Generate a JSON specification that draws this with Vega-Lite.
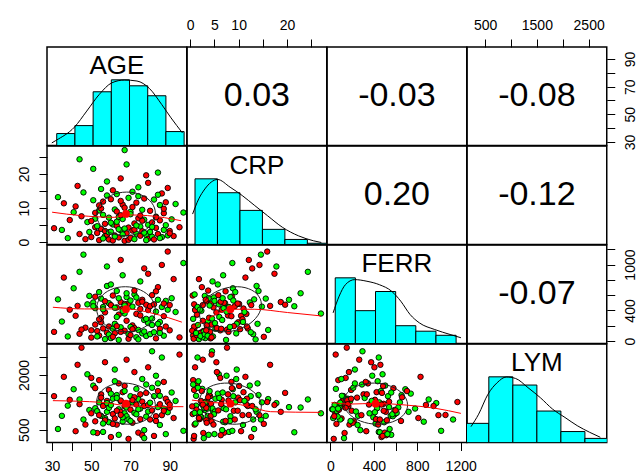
{
"$schema":"https://vega.github.io/schema/vega-lite/v6.json",
"padding":{"left":16,"top":17,"right":0,"bottom":0},
"background":"white",
"config":{
 "view":{"stroke":"black","strokeWidth":1.5},
 "axis":{"domain":false,"grid":false,"tickColor":"black","tickWidth":1,"labelColor":"black","labelFont":"Liberation Sans","labelFontSize":14,"labelOverlap":false,"labelFlush":false},
 "text":{"font":"Liberation Sans"},
 "concat":{"spacing":0}
},
"datasets":{
 "subj":[
{"AGE":31,"CRP":4.1,"FERR":120,"LYM":1420,"g":"r"},
{"AGE":33,"CRP":13.2,"FERR":545,"LYM":520,"g":"g"},
{"AGE":36,"CRP":11.4,"FERR":830,"LYM":1950,"g":"r"},
{"AGE":38,"CRP":1.2,"FERR":60,"LYM":1160,"g":"g"},
{"AGE":39,"CRP":6.5,"FERR":410,"LYM":1320,"g":"r"},
{"AGE":35,"CRP":3.6,"FERR":255,"LYM":880,"g":"g"},
{"AGE":41,"CRP":8.8,"FERR":690,"LYM":1610,"g":"g"},
{"AGE":43,"CRP":16.5,"FERR":460,"LYM":2280,"g":"r"},
{"AGE":44,"CRP":2.4,"FERR":95,"LYM":1200,"g":"r"},
{"AGE":46,"CRP":14.6,"FERR":1130,"LYM":780,"g":"g"},
{"AGE":47,"CRP":0.9,"FERR":175,"LYM":640,"g":"r"},
{"AGE":48,"CRP":5.9,"FERR":480,"LYM":2020,"g":"g"},
{"AGE":42,"CRP":10.5,"FERR":330,"LYM":460,"g":"r"},
{"AGE":45,"CRP":7.6,"FERR":150,"LYM":2750,"g":"r"},
{"AGE":49,"CRP":3.0,"FERR":590,"LYM":1040,"g":"g"},
{"AGE":44,"CRP":24.3,"FERR":905,"LYM":1330,"g":"g"},
{"AGE":50,"CRP":1.5,"FERR":45,"LYM":950,"g":"r"},
{"AGE":51,"CRP":12.3,"FERR":505,"LYM":1710,"g":"g"},
{"AGE":52,"CRP":4.4,"FERR":215,"LYM":730,"g":"r"},
{"AGE":52,"CRP":6.9,"FERR":430,"LYM":1090,"g":"g"},
{"AGE":53,"CRP":2.7,"FERR":130,"LYM":410,"g":"r"},
{"AGE":54,"CRP":9.3,"FERR":640,"LYM":1250,"g":"g"},
{"AGE":54,"CRP":0.6,"FERR":72,"LYM":1860,"g":"r"},
{"AGE":55,"CRP":15.6,"FERR":555,"LYM":880,"g":"g"},
{"AGE":55,"CRP":3.9,"FERR":305,"LYM":1470,"g":"r"},
{"AGE":56,"CRP":8.0,"FERR":445,"LYM":440,"g":"g"},
{"AGE":56,"CRP":11.9,"FERR":165,"LYM":1150,"g":"r"},
{"AGE":57,"CRP":1.8,"FERR":25,"LYM":820,"g":"g"},
{"AGE":57,"CRP":5.4,"FERR":375,"LYM":2350,"g":"r"},
{"AGE":58,"CRP":13.7,"FERR":720,"LYM":990,"g":"g"},
{"AGE":58,"CRP":2.2,"FERR":110,"LYM":1290,"g":"r"},
{"AGE":59,"CRP":7.2,"FERR":495,"LYM":705,"g":"g"},
{"AGE":59,"CRP":0.8,"FERR":190,"LYM":1590,"g":"r"},
{"AGE":51,"CRP":21.5,"FERR":455,"LYM":430,"g":"g"},
{"AGE":53,"CRP":4.7,"FERR":60,"LYM":1010,"g":"g"},
{"AGE":55,"CRP":9.9,"FERR":245,"LYM":1380,"g":"r"},
{"AGE":57,"CRP":3.3,"FERR":520,"LYM":760,"g":"r"},
{"AGE":58,"CRP":17.8,"FERR":975,"LYM":1230,"g":"g"},
{"AGE":50,"CRP":6.2,"FERR":140,"LYM":1920,"g":"r"},
{"AGE":56,"CRP":1.1,"FERR":415,"LYM":670,"g":"g"},
{"AGE":54,"CRP":10.8,"FERR":285,"LYM":900,"g":"r"},
{"AGE":59,"CRP":2.9,"FERR":85,"LYM":1100,"g":"g"},
{"AGE":52,"CRP":8.6,"FERR":580,"LYM":1640,"g":"r"},
{"AGE":60,"CRP":3.1,"FERR":38,"LYM":1180,"g":"g"},
{"AGE":60,"CRP":12.6,"FERR":470,"LYM":300,"g":"r"},
{"AGE":61,"CRP":5.2,"FERR":160,"LYM":1350,"g":"g"},
{"AGE":61,"CRP":0.5,"FERR":595,"LYM":930,"g":"r"},
{"AGE":62,"CRP":9.6,"FERR":225,"LYM":2150,"g":"g"},
{"AGE":62,"CRP":2.0,"FERR":102,"LYM":810,"g":"r"},
{"AGE":63,"CRP":14.1,"FERR":655,"LYM":1450,"g":"g"},
{"AGE":63,"CRP":4.8,"FERR":440,"LYM":640,"g":"r"},
{"AGE":64,"CRP":7.4,"FERR":15,"LYM":1060,"g":"g"},
{"AGE":64,"CRP":1.4,"FERR":345,"LYM":1770,"g":"r"},
{"AGE":65,"CRP":18.7,"FERR":510,"LYM":990,"g":"r"},
{"AGE":65,"CRP":3.5,"FERR":180,"LYM":1280,"g":"g"},
{"AGE":66,"CRP":6.8,"FERR":860,"LYM":720,"g":"g"},
{"AGE":66,"CRP":11.0,"FERR":425,"LYM":1530,"g":"r"},
{"AGE":67,"CRP":27.0,"FERR":360,"LYM":950,"g":"g"},
{"AGE":67,"CRP":0.4,"FERR":135,"LYM":1140,"g":"r"},
{"AGE":68,"CRP":8.3,"FERR":575,"LYM":870,"g":"g"},
{"AGE":68,"CRP":2.6,"FERR":265,"LYM":2420,"g":"r"},
{"AGE":69,"CRP":13.0,"FERR":90,"LYM":780,"g":"g"},
{"AGE":69,"CRP":4.3,"FERR":490,"LYM":1210,"g":"r"},
{"AGE":60,"CRP":5.7,"FERR":740,"LYM":1490,"g":"g"},
{"AGE":61,"CRP":15.2,"FERR":55,"LYM":660,"g":"r"},
{"AGE":62,"CRP":1.7,"FERR":435,"LYM":1830,"g":"g"},
{"AGE":63,"CRP":9.0,"FERR":195,"LYM":1020,"g":"r"},
{"AGE":64,"CRP":3.8,"FERR":560,"LYM":360,"g":"g"},
{"AGE":65,"CRP":7.9,"FERR":120,"LYM":1300,"g":"r"},
{"AGE":66,"CRP":2.3,"FERR":395,"LYM":840,"g":"g"},
{"AGE":67,"CRP":10.1,"FERR":485,"LYM":1700,"g":"r"},
{"AGE":68,"CRP":22.8,"FERR":625,"LYM":1110,"g":"g"},
{"AGE":69,"CRP":0.7,"FERR":30,"LYM":250,"g":"r"},
{"AGE":63,"CRP":6.0,"FERR":315,"LYM":1370,"g":"g"},
{"AGE":65,"CRP":12.1,"FERR":1060,"LYM":905,"g":"r"},
{"AGE":67,"CRP":4.0,"FERR":465,"LYM":1560,"g":"g"},
{"AGE":70,"CRP":1.3,"FERR":78,"LYM":1050,"g":"r"},
{"AGE":70,"CRP":8.9,"FERR":530,"LYM":1420,"g":"g"},
{"AGE":71,"CRP":3.4,"FERR":205,"LYM":690,"g":"r"},
{"AGE":71,"CRP":14.8,"FERR":450,"LYM":1250,"g":"g"},
{"AGE":72,"CRP":5.5,"FERR":170,"LYM":2080,"g":"r"},
{"AGE":72,"CRP":0.9,"FERR":610,"LYM":960,"g":"g"},
{"AGE":73,"CRP":11.6,"FERR":355,"LYM":1190,"g":"r"},
{"AGE":73,"CRP":2.5,"FERR":50,"LYM":1620,"g":"g"},
{"AGE":74,"CRP":7.0,"FERR":500,"LYM":420,"g":"r"},
{"AGE":74,"CRP":16.1,"FERR":145,"LYM":1340,"g":"g"},
{"AGE":75,"CRP":4.6,"FERR":780,"LYM":1080,"g":"g"},
{"AGE":75,"CRP":1.9,"FERR":420,"LYM":790,"g":"r"},
{"AGE":76,"CRP":9.5,"FERR":100,"LYM":1890,"g":"g"},
{"AGE":76,"CRP":3.2,"FERR":540,"LYM":1270,"g":"r"},
{"AGE":77,"CRP":6.6,"FERR":275,"LYM":490,"g":"g"},
{"AGE":77,"CRP":12.8,"FERR":950,"LYM":1150,"g":"r"},
{"AGE":78,"CRP":2.1,"FERR":66,"LYM":860,"g":"g"},
{"AGE":78,"CRP":19.6,"FERR":475,"LYM":1510,"g":"r"},
{"AGE":79,"CRP":5.1,"FERR":235,"LYM":1000,"g":"g"},
{"AGE":79,"CRP":1.0,"FERR":405,"LYM":2210,"g":"r"},
{"AGE":70,"CRP":8.2,"FERR":185,"LYM":740,"g":"g"},
{"AGE":72,"CRP":3.7,"FERR":660,"LYM":1390,"g":"r"},
{"AGE":74,"CRP":13.5,"FERR":22,"LYM":1060,"g":"g"},
{"AGE":76,"CRP":6.3,"FERR":515,"LYM":350,"g":"r"},
{"AGE":78,"CRP":0.6,"FERR":290,"LYM":1740,"g":"g"},
{"AGE":71,"CRP":10.3,"FERR":155,"LYM":1310,"g":"r"},
{"AGE":73,"CRP":4.9,"FERR":570,"LYM":925,"g":"g"},
{"AGE":75,"CRP":7.8,"FERR":335,"LYM":1470,"g":"r"},
{"AGE":77,"CRP":2.8,"FERR":125,"LYM":270,"g":"g"},
{"AGE":79,"CRP":17.4,"FERR":880,"LYM":1180,"g":"r"},
{"AGE":80,"CRP":3.0,"FERR":90,"LYM":1240,"g":"g"},
{"AGE":80,"CRP":9.2,"FERR":455,"LYM":780,"g":"r"},
{"AGE":81,"CRP":1.6,"FERR":210,"LYM":1650,"g":"g"},
{"AGE":81,"CRP":5.8,"FERR":600,"LYM":1030,"g":"r"},
{"AGE":82,"CRP":12.5,"FERR":115,"LYM":1420,"g":"g"},
{"AGE":82,"CRP":0.8,"FERR":480,"LYM":330,"g":"r"},
{"AGE":83,"CRP":7.5,"FERR":385,"LYM":1980,"g":"g"},
{"AGE":83,"CRP":4.2,"FERR":35,"LYM":870,"g":"r"},
{"AGE":84,"CRP":20.4,"FERR":540,"LYM":1120,"g":"g"},
{"AGE":84,"CRP":2.4,"FERR":705,"LYM":1560,"g":"r"},
{"AGE":85,"CRP":10.9,"FERR":250,"LYM":630,"g":"g"},
{"AGE":85,"CRP":6.4,"FERR":160,"LYM":1200,"g":"r"},
{"AGE":86,"CRP":1.5,"FERR":445,"LYM":2480,"g":"g"},
{"AGE":86,"CRP":14.3,"FERR":995,"LYM":900,"g":"r"},
{"AGE":87,"CRP":3.6,"FERR":70,"LYM":1080,"g":"g"},
{"AGE":87,"CRP":8.5,"FERR":325,"LYM":1810,"g":"r"},
{"AGE":88,"CRP":5.0,"FERR":525,"LYM":380,"g":"g"},
{"AGE":88,"CRP":11.7,"FERR":190,"LYM":1350,"g":"r"},
{"AGE":89,"CRP":2.0,"FERR":410,"LYM":980,"g":"g"},
{"AGE":89,"CRP":15.9,"FERR":1170,"LYM":1260,"g":"r"},
{"AGE":81,"CRP":4.5,"FERR":295,"LYM":2650,"g":"g"},
{"AGE":83,"CRP":7.3,"FERR":650,"LYM":740,"g":"r"},
{"AGE":85,"CRP":1.2,"FERR":105,"LYM":1430,"g":"g"},
{"AGE":87,"CRP":9.8,"FERR":490,"LYM":1020,"g":"r"},
{"AGE":84,"CRP":13.9,"FERR":225,"LYM":1770,"g":"g"},
{"AGE":90,"CRP":3.3,"FERR":140,"LYM":1100,"g":"r"},
{"AGE":91,"CRP":6.7,"FERR":560,"LYM":1520,"g":"g"},
{"AGE":92,"CRP":1.8,"FERR":810,"LYM":820,"g":"r"},
{"AGE":93,"CRP":11.2,"FERR":380,"LYM":1290,"g":"g"},
{"AGE":95,"CRP":4.4,"FERR":48,"LYM":2560,"g":"r"},
{"AGE":97,"CRP":8.7,"FERR":1020,"LYM":470,"g":"g"},
{"AGE":90,"CRP":2.6,"FERR":470,"LYM":1190,"g":"r"}
 ],
 "hist":[
{"v":"AGE","lo":30,"hi":40,"n":6},{"v":"AGE","lo":40,"hi":50,"n":10},{"v":"AGE","lo":50,"hi":60,"n":27},{"v":"AGE","lo":60,"hi":70,"n":33},{"v":"AGE","lo":70,"hi":80,"n":30},{"v":"AGE","lo":80,"hi":90,"n":25},{"v":"AGE","lo":90,"hi":100,"n":7},
{"v":"CRP","lo":0,"hi":5,"n":52},{"v":"CRP","lo":5,"hi":10,"n":41},{"v":"CRP","lo":10,"hi":15,"n":27},{"v":"CRP","lo":15,"hi":20,"n":12},{"v":"CRP","lo":20,"hi":25,"n":4},{"v":"CRP","lo":25,"hi":30,"n":1},
{"v":"FERR","lo":0,"hi":200,"n":48},{"v":"FERR","lo":200,"hi":400,"n":24},{"v":"FERR","lo":400,"hi":600,"n":38},{"v":"FERR","lo":600,"hi":800,"n":13},{"v":"FERR","lo":800,"hi":1000,"n":9},{"v":"FERR","lo":1000,"hi":1200,"n":6},
{"v":"LYM","lo":0,"hi":500,"n":14},{"v":"LYM","lo":500,"hi":1000,"n":48},{"v":"LYM","lo":1000,"hi":1500,"n":42},{"v":"LYM","lo":1500,"hi":2000,"n":23},{"v":"LYM","lo":2000,"hi":2500,"n":8},{"v":"LYM","lo":2500,"hi":3000,"n":3}
 ],
 "dens":[
{"v":"AGE","x":27.3,"y":1.3},{"v":"AGE","x":29.5,"y":2.5},{"v":"AGE","x":39.7,"y":9.2},{"v":"AGE","x":46.5,"y":17.3},{"v":"AGE","x":53.4,"y":25.7},{"v":"AGE","x":60.3,"y":31.5},{"v":"AGE","x":67.2,"y":32.9},{"v":"AGE","x":74.1,"y":32.4},{"v":"AGE","x":80.9,"y":28.7},{"v":"AGE","x":87.7,"y":20.6},{"v":"AGE","x":92.8,"y":13.9},{"v":"AGE","x":99.1,"y":6.3},
{"v":"CRP","x":-0.54,"y":24.1},{"v":"CRP","x":0.83,"y":36.1},{"v":"CRP","x":2.2,"y":44},{"v":"CRP","x":3.6,"y":49.4},{"v":"CRP","x":5.0,"y":51.5},{"v":"CRP","x":7.8,"y":45.4},{"v":"CRP","x":10.5,"y":38.8},{"v":"CRP","x":13.3,"y":30.8},{"v":"CRP","x":16.1,"y":22.9},{"v":"CRP","x":19.5,"y":13.5},{"v":"CRP","x":23.0,"y":6.9},{"v":"CRP","x":26.4,"y":2.9},{"v":"CRP","x":28.1,"y":1.6},
{"v":"FERR","x":-21,"y":22.4},{"v":"FERR","x":39,"y":34.6},{"v":"FERR","x":101,"y":43},{"v":"FERR","x":193,"y":46.7},{"v":"FERR","x":315,"y":45.5},{"v":"FERR","x":438,"y":43},{"v":"FERR","x":560,"y":38.2},{"v":"FERR","x":651,"y":30.9},{"v":"FERR","x":743,"y":21.2},{"v":"FERR","x":835,"y":15.1},{"v":"FERR","x":988,"y":10.2},{"v":"FERR","x":1140,"y":6.6},{"v":"FERR","x":1248,"y":4.2},
{"v":"LYM","x":129,"y":11.6},{"v":"LYM","x":288,"y":20.7},{"v":"LYM","x":481,"y":35.2},{"v":"LYM","x":673,"y":43.7},{"v":"LYM","x":865,"y":47.9},{"v":"LYM","x":1058,"y":46.8},{"v":"LYM","x":1315,"y":40.1},{"v":"LYM","x":1571,"y":32.8},{"v":"LYM","x":1827,"y":24.4},{"v":"LYM","x":2085,"y":18.3},{"v":"LYM","x":2340,"y":12.3},{"v":"LYM","x":2596,"y":7.5},{"v":"LYM","x":2821,"y":3.8}
 ],
 "ell":[
{"p":"AGE-CRP","i":0,"x":78.46,"y":12.89},{"p":"AGE-CRP","i":1,"x":71.80,"y":14.51},{"p":"AGE-CRP","i":2,"x":64.04,"y":14.46},{"p":"AGE-CRP","i":3,"x":57.25,"y":12.76},{"p":"AGE-CRP","i":4,"x":53.27,"y":9.86},{"p":"AGE-CRP","i":5,"x":53.16,"y":6.55},{"p":"AGE-CRP","i":6,"x":56.94,"y":3.71},{"p":"AGE-CRP","i":7,"x":63.60,"y":2.09},{"p":"AGE-CRP","i":8,"x":71.36,"y":2.14},{"p":"AGE-CRP","i":9,"x":78.15,"y":3.84},{"p":"AGE-CRP","i":10,"x":82.13,"y":6.74},{"p":"AGE-CRP","i":11,"x":82.24,"y":10.05},
{"p":"AGE-FERR","i":0,"x":78.15,"y":621.4},{"p":"AGE-FERR","i":1,"x":71.36,"y":699.8},{"p":"AGE-FERR","i":2,"x":63.60,"y":702.0},{"p":"AGE-FERR","i":3,"x":56.94,"y":627.7},{"p":"AGE-FERR","i":4,"x":53.16,"y":496.6},{"p":"AGE-FERR","i":5,"x":53.27,"y":343.9},{"p":"AGE-FERR","i":6,"x":57.25,"y":210.6},{"p":"AGE-FERR","i":7,"x":64.04,"y":132.2},{"p":"AGE-FERR","i":8,"x":71.80,"y":130.0},{"p":"AGE-FERR","i":9,"x":78.46,"y":204.3},{"p":"AGE-FERR","i":10,"x":82.24,"y":335.4},{"p":"AGE-FERR","i":11,"x":82.13,"y":488.1},
{"p":"CRP-FERR","i":0,"x":13.26,"y":644.5},{"p":"CRP-FERR","i":1,"x":10.57,"y":707.2},{"p":"CRP-FERR","i":2,"x":7.27,"y":691.8},{"p":"CRP-FERR","i":3,"x":4.25,"y":602.6},{"p":"CRP-FERR","i":4,"x":2.32,"y":463.3},{"p":"CRP-FERR","i":5,"x":1.98,"y":311.4},{"p":"CRP-FERR","i":6,"x":3.34,"y":187.5},{"p":"CRP-FERR","i":7,"x":6.03,"y":124.8},{"p":"CRP-FERR","i":8,"x":9.33,"y":140.2},{"p":"CRP-FERR","i":9,"x":12.35,"y":229.4},{"p":"CRP-FERR","i":10,"x":14.28,"y":368.7},{"p":"CRP-FERR","i":11,"x":14.62,"y":520.6},
{"p":"AGE-LYM","i":0,"x":77.87,"y":1598.2},{"p":"AGE-LYM","i":1,"x":71.00,"y":1754.4},{"p":"AGE-LYM","i":2,"x":63.24,"y":1766.1},{"p":"AGE-LYM","i":3,"x":56.68,"y":1630.2},{"p":"AGE-LYM","i":4,"x":53.07,"y":1382.9},{"p":"AGE-LYM","i":5,"x":53.38,"y":1090.8},{"p":"AGE-LYM","i":6,"x":57.53,"y":831.8},{"p":"AGE-LYM","i":7,"x":64.40,"y":675.6},{"p":"AGE-LYM","i":8,"x":72.16,"y":663.9},{"p":"AGE-LYM","i":9,"x":78.72,"y":799.8},{"p":"AGE-LYM","i":10,"x":82.33,"y":1047.1},{"p":"AGE-LYM","i":11,"x":82.02,"y":1339.2},
{"p":"CRP-LYM","i":0,"x":12.55,"y":1589.8},{"p":"CRP-LYM","i":1,"x":9.58,"y":1751.0},{"p":"CRP-LYM","i":2,"x":6.28,"y":1768.5},{"p":"CRP-LYM","i":3,"x":3.51,"y":1637.8},{"p":"CRP-LYM","i":4,"x":2.03,"y":1393.7},{"p":"CRP-LYM","i":5,"x":2.23,"y":1101.9},{"p":"CRP-LYM","i":6,"x":4.05,"y":840.2},{"p":"CRP-LYM","i":7,"x":7.02,"y":679.0},{"p":"CRP-LYM","i":8,"x":10.32,"y":661.5},{"p":"CRP-LYM","i":9,"x":13.09,"y":792.2},{"p":"CRP-LYM","i":10,"x":14.57,"y":1036.3},{"p":"CRP-LYM","i":11,"x":14.37,"y":1328.1},
{"p":"FERR-LYM","i":0,"x":617.2,"y":1600.3},{"p":"FERR-LYM","i":1,"x":482.3,"y":1755.3},{"p":"FERR-LYM","i":2,"x":329.7,"y":1765.5},{"p":"FERR-LYM","i":3,"x":200.2,"y":1628.2},{"p":"FERR-LYM","i":4,"x":128.6,"y":1380.2},{"p":"FERR-LYM","i":5,"x":133.9,"y":1088.0},{"p":"FERR-LYM","i":6,"x":214.8,"y":829.7},{"p":"FERR-LYM","i":7,"x":349.7,"y":674.7},{"p":"FERR-LYM","i":8,"x":502.3,"y":664.5},{"p":"FERR-LYM","i":9,"x":631.8,"y":801.8},{"p":"FERR-LYM","i":10,"x":703.4,"y":1049.8},{"p":"FERR-LYM","i":11,"x":698.1,"y":1342.0}
 ],
 "sm":[
{"p":"AGE-CRP","x":30,"y":8.8},{"p":"AGE-CRP","x":44.5,"y":7.8},{"p":"AGE-CRP","x":61.6,"y":7.3},{"p":"AGE-CRP","x":68.5,"y":8.0},{"p":"AGE-CRP","x":78.7,"y":7.8},{"p":"AGE-CRP","x":95.8,"y":6.3},
{"p":"AGE-FERR","x":30.4,"y":442},{"p":"AGE-FERR","x":46.6,"y":420},{"p":"AGE-FERR","x":68,"y":420},{"p":"AGE-FERR","x":82.5,"y":355},{"p":"AGE-FERR","x":96.2,"y":247},
{"p":"CRP-FERR","x":0.15,"y":117},{"p":"CRP-FERR","x":1.0,"y":178},{"p":"CRP-FERR","x":3.5,"y":286},{"p":"CRP-FERR","x":6.2,"y":373},{"p":"CRP-FERR","x":8.3,"y":416},{"p":"CRP-FERR","x":13.2,"y":416},{"p":"CRP-FERR","x":20.1,"y":373},{"p":"CRP-FERR","x":27,"y":329},
{"p":"AGE-LYM","x":30.4,"y":1297},{"p":"AGE-LYM","x":55.3,"y":1250},{"p":"AGE-LYM","x":68,"y":1159},{"p":"AGE-LYM","x":82.5,"y":1132},{"p":"AGE-LYM","x":97,"y":1132},
{"p":"CRP-LYM","x":0.35,"y":1313},{"p":"CRP-LYM","x":4.9,"y":1242},{"p":"CRP-LYM","x":8.3,"y":1223},{"p":"CRP-LYM","x":12.4,"y":1132},{"p":"CRP-LYM","x":16.6,"y":995},{"p":"CRP-LYM","x":27,"y":975},
{"p":"FERR-LYM","x":9,"y":1242},{"p":"FERR-LYM","x":177,"y":1203},{"p":"FERR-LYM","x":406,"y":1223},{"p":"FERR-LYM","x":697,"y":1176},{"p":"FERR-LYM","x":972,"y":1085},{"p":"FERR-LYM","x":1202,"y":948}
 ],
 "means":[{"AGE":67.7,"CRP":8.3,"FERR":416,"LYM":1215}]
},
"columns":4,
"spacing":0,
"bounds":"flush",
"concat":[
 {"width":139.75,"height":98.5,"layer":[
  {"data":{"name":"hist"},"transform":[{"filter":"datum.v=='AGE'"}],"mark":{"type":"bar","fill":"#00FFFF","stroke":"black","strokeWidth":1,"clip":true,"orient":"vertical"},
   "encoding":{"x":{"field":"lo","type":"quantitative","scale":{"domain":[27.4,98.7],"nice":false,"zero":false},"axis":null},"x2":{"field":"hi"},"y":{"field":"n","type":"quantitative","scale":{"domain":[0,49.5],"nice":false},"axis":null},"y2":{"datum":0}}},
  {"data":{"name":"dens"},"transform":[{"filter":"datum.v=='AGE'"}],"mark":{"type":"line","color":"black","strokeWidth":1,"clip":true,"interpolate":"monotone"},
   "encoding":{"x":{"field":"x","type":"quantitative","scale":{"domain":[27.4,98.7],"nice":false,"zero":false},"axis":null},"y":{"field":"y","type":"quantitative","scale":{"domain":[0,49.5],"nice":false},"axis":null}}},
  {"data":{"values":[{"t":"AGE"}]},"mark":{"type":"text","fontSize":26,"baseline":"alphabetic","align":"center","color":"black"},
   "encoding":{"text":{"field":"t"},"y":{"datum":35.7,"type":"quantitative","scale":{"domain":[0,49.5],"nice":false},"axis":null}}}
 ]},
 {"width":139.75,"height":98.5,"layer":[
  {"data":{"name":"subj"},"mark":{"type":"point","opacity":0},
   "encoding":{"x":{"field":"CRP","type":"quantitative","scale":{"domain":[-0.67,28.2],"nice":false,"zero":false},"axis":{"orient":"top","values":[0,5,10,15,20,25],"format":"d","labelExpr":"(datum.value==15||datum.value==25)?'':datum.label","title":null,"tickSize":8,"labelPadding":10,"labelAngle":0,"labelAlign":"center","labelBaseline":"alphabetic"}}}},
  {"data":{"values":[{"t":"0.03"}]},"mark":{"type":"text","fontSize":34,"baseline":"middle","align":"center","color":"black"},"encoding":{"text":{"field":"t"}}}
 ]},
 {"width":139.75,"height":98.5,"layer":[
  {"data":{"name":"means"},"mark":{"type":"point","opacity":0},"encoding":{"x":{"field":"AGE","type":"quantitative","axis":null},"y":{"field":"AGE","type":"quantitative","axis":null}}},
  {"data":{"values":[{"t":"-0.03"}]},"mark":{"type":"text","fontSize":34,"baseline":"middle","align":"center","color":"black"},"encoding":{"text":{"field":"t"}}}
 ]},
 {"width":139.75,"height":98.5,"layer":[
  {"data":{"name":"subj"},"mark":{"type":"point","opacity":0},
   "encoding":{"x":{"field":"LYM","type":"quantitative","scale":{"domain":[150,2850],"nice":false,"zero":false},"axis":{"orient":"top","values":[500,1000,1500,2000,2500],"format":"d","labelExpr":"(datum.value==1000||datum.value==2000)?'':datum.label","title":null,"tickSize":8,"labelPadding":10,"labelAngle":0,"labelAlign":"center","labelBaseline":"alphabetic"}},
   "y":{"field":"AGE","type":"quantitative","scale":{"domain":[27.4,98.7],"nice":false,"zero":false},"axis":{"orient":"right","values":[30,40,50,60,70,80,90],"format":"d","labelExpr":"(datum.value==40||datum.value==60||datum.value==80)?'':datum.label","title":null,"tickSize":8,"labelPadding":9,"labelAngle":-90,"labelAlign":"center","labelBaseline":"top"}}}},
  {"data":{"values":[{"t":"-0.08"}]},"mark":{"type":"text","fontSize":34,"baseline":"middle","align":"center","color":"black"},"encoding":{"text":{"field":"t"}}}
 ]},
 {"width":139.75,"height":98.5,"layer":[
  {"data":{"name":"subj"},"mark":{"type":"circle","size":30,"stroke":"black","strokeWidth":0.9,"opacity":1},
   "encoding":{"x":{"field":"AGE","type":"quantitative","scale":{"domain":[27.4,98.7],"nice":false,"zero":false},"axis":null},
    "y":{"field":"CRP","type":"quantitative","scale":{"domain":[-0.67,28.2],"nice":false,"zero":false},"axis":{"orient":"left","values":[0,5,10,15,20,25],"format":"d","labelExpr":"(datum.value==0||datum.value==10||datum.value==20)?datum.label:''","title":null,"tickSize":8,"labelPadding":11,"labelAngle":-90,"labelAlign":"center","labelBaseline":"alphabetic"}},
    "fill":{"field":"g","type":"nominal","scale":{"domain":["r","g"],"range":["#FF0000","#00FF00"]},"legend":null}}},
  {"data":{"name":"ell"},"transform":[{"filter":"datum.p=='AGE-CRP'"}],"mark":{"type":"line","color":"#222222","strokeWidth":1,"interpolate":"cardinal-closed"},
   "encoding":{"x":{"field":"x","type":"quantitative","scale":{"domain":[27.4,98.7],"nice":false,"zero":false},"axis":null},"y":{"field":"y","type":"quantitative","scale":{"domain":[-0.67,28.2],"nice":false,"zero":false},"axis":{"orient":"left","values":[0,5,10,15,20,25],"format":"d","labelExpr":"(datum.value==0||datum.value==10||datum.value==20)?datum.label:''","title":null,"tickSize":8,"labelPadding":11,"labelAngle":-90,"labelAlign":"center","labelBaseline":"alphabetic"}},"order":{"field":"i"}}},
  {"data":{"name":"sm"},"transform":[{"filter":"datum.p=='AGE-CRP'"}],"mark":{"type":"line","color":"#FF0000","strokeWidth":1,"interpolate":"monotone"},
   "encoding":{"x":{"field":"x","type":"quantitative","scale":{"domain":[27.4,98.7],"nice":false,"zero":false},"axis":null},"y":{"field":"y","type":"quantitative","scale":{"domain":[-0.67,28.2],"nice":false,"zero":false},"axis":{"orient":"left","values":[0,5,10,15,20,25],"format":"d","labelExpr":"(datum.value==0||datum.value==10||datum.value==20)?datum.label:''","title":null,"tickSize":8,"labelPadding":11,"labelAngle":-90,"labelAlign":"center","labelBaseline":"alphabetic"}}}},
  {"data":{"name":"means"},"mark":{"type":"circle","size":60,"color":"#FF0000","opacity":1},
   "encoding":{"x":{"field":"AGE","type":"quantitative","scale":{"domain":[27.4,98.7],"nice":false,"zero":false},"axis":null},"y":{"field":"CRP","type":"quantitative","scale":{"domain":[-0.67,28.2],"nice":false,"zero":false},"axis":{"orient":"left","values":[0,5,10,15,20,25],"format":"d","labelExpr":"(datum.value==0||datum.value==10||datum.value==20)?datum.label:''","title":null,"tickSize":8,"labelPadding":11,"labelAngle":-90,"labelAlign":"center","labelBaseline":"alphabetic"}}}}
 ]},
 {"width":139.75,"height":98.5,"layer":[
  {"data":{"name":"hist"},"transform":[{"filter":"datum.v=='CRP'"}],"mark":{"type":"bar","fill":"#00FFFF","stroke":"black","strokeWidth":1,"clip":true,"orient":"vertical"},
   "encoding":{"x":{"field":"lo","type":"quantitative","scale":{"domain":[-0.67,28.2],"nice":false,"zero":false},"axis":null},"x2":{"field":"hi"},"y":{"field":"n","type":"quantitative","scale":{"domain":[0,78],"nice":false},"axis":null},"y2":{"datum":0}}},
  {"data":{"name":"dens"},"transform":[{"filter":"datum.v=='CRP'"}],"mark":{"type":"line","color":"black","strokeWidth":1,"clip":true,"interpolate":"monotone"},
   "encoding":{"x":{"field":"x","type":"quantitative","scale":{"domain":[-0.67,28.2],"nice":false,"zero":false},"axis":null},"y":{"field":"y","type":"quantitative","scale":{"domain":[0,78],"nice":false},"axis":null}}},
  {"data":{"values":[{"t":"CRP"}]},"mark":{"type":"text","fontSize":26,"baseline":"alphabetic","align":"center","color":"black"},
   "encoding":{"text":{"field":"t"},"y":{"datum":56.2,"type":"quantitative","scale":{"domain":[0,78],"nice":false},"axis":null}}}
 ]},
 {"width":139.75,"height":98.5,"layer":[
  {"data":{"name":"means"},"mark":{"type":"point","opacity":0},"encoding":{"x":{"field":"AGE","type":"quantitative","axis":null},"y":{"field":"AGE","type":"quantitative","axis":null}}},
  {"data":{"values":[{"t":"0.20"}]},"mark":{"type":"text","fontSize":34,"baseline":"middle","align":"center","color":"black"},"encoding":{"text":{"field":"t"}}}
 ]},
 {"width":139.75,"height":98.5,"layer":[
  {"data":{"name":"means"},"mark":{"type":"point","opacity":0},"encoding":{"x":{"field":"AGE","type":"quantitative","axis":null},"y":{"field":"AGE","type":"quantitative","axis":null}}},
  {"data":{"values":[{"t":"-0.12"}]},"mark":{"type":"text","fontSize":34,"baseline":"middle","align":"center","color":"black"},"encoding":{"text":{"field":"t"}}}
 ]},
 {"width":139.75,"height":98.5,"layer":[
  {"data":{"name":"subj"},"mark":{"type":"circle","size":30,"stroke":"black","strokeWidth":0.9,"opacity":1},
   "encoding":{"x":{"field":"AGE","type":"quantitative","scale":{"domain":[27.4,98.7],"nice":false,"zero":false},"axis":null},
    "y":{"field":"FERR","type":"quantitative","scale":{"domain":[-32,1256],"nice":false,"zero":false},"axis":null},
    "fill":{"field":"g","type":"nominal","scale":{"domain":["r","g"],"range":["#FF0000","#00FF00"]},"legend":null}}},
  {"data":{"name":"ell"},"transform":[{"filter":"datum.p=='AGE-FERR'"}],"mark":{"type":"line","color":"#222222","strokeWidth":1,"interpolate":"cardinal-closed"},
   "encoding":{"x":{"field":"x","type":"quantitative","scale":{"domain":[27.4,98.7],"nice":false,"zero":false},"axis":null},"y":{"field":"y","type":"quantitative","scale":{"domain":[-32,1256],"nice":false,"zero":false},"axis":null},"order":{"field":"i"}}},
  {"data":{"name":"sm"},"transform":[{"filter":"datum.p=='AGE-FERR'"}],"mark":{"type":"line","color":"#FF0000","strokeWidth":1,"interpolate":"monotone"},
   "encoding":{"x":{"field":"x","type":"quantitative","scale":{"domain":[27.4,98.7],"nice":false,"zero":false},"axis":null},"y":{"field":"y","type":"quantitative","scale":{"domain":[-32,1256],"nice":false,"zero":false},"axis":null}}},
  {"data":{"name":"means"},"mark":{"type":"circle","size":60,"color":"#FF0000","opacity":1},
   "encoding":{"x":{"field":"AGE","type":"quantitative","scale":{"domain":[27.4,98.7],"nice":false,"zero":false},"axis":null},"y":{"field":"FERR","type":"quantitative","scale":{"domain":[-32,1256],"nice":false,"zero":false},"axis":null}}}
 ]},
 {"width":139.75,"height":98.5,"layer":[
  {"data":{"name":"subj"},"mark":{"type":"circle","size":30,"stroke":"black","strokeWidth":0.9,"opacity":1},
   "encoding":{"x":{"field":"CRP","type":"quantitative","scale":{"domain":[-0.67,28.2],"nice":false,"zero":false},"axis":null},
    "y":{"field":"FERR","type":"quantitative","scale":{"domain":[-32,1256],"nice":false,"zero":false},"axis":null},
    "fill":{"field":"g","type":"nominal","scale":{"domain":["r","g"],"range":["#FF0000","#00FF00"]},"legend":null}}},
  {"data":{"name":"ell"},"transform":[{"filter":"datum.p=='CRP-FERR'"}],"mark":{"type":"line","color":"#222222","strokeWidth":1,"interpolate":"cardinal-closed"},
   "encoding":{"x":{"field":"x","type":"quantitative","scale":{"domain":[-0.67,28.2],"nice":false,"zero":false},"axis":null},"y":{"field":"y","type":"quantitative","scale":{"domain":[-32,1256],"nice":false,"zero":false},"axis":null},"order":{"field":"i"}}},
  {"data":{"name":"sm"},"transform":[{"filter":"datum.p=='CRP-FERR'"}],"mark":{"type":"line","color":"#FF0000","strokeWidth":1,"interpolate":"monotone"},
   "encoding":{"x":{"field":"x","type":"quantitative","scale":{"domain":[-0.67,28.2],"nice":false,"zero":false},"axis":null},"y":{"field":"y","type":"quantitative","scale":{"domain":[-32,1256],"nice":false,"zero":false},"axis":null}}},
  {"data":{"name":"means"},"mark":{"type":"circle","size":60,"color":"#FF0000","opacity":1},
   "encoding":{"x":{"field":"CRP","type":"quantitative","scale":{"domain":[-0.67,28.2],"nice":false,"zero":false},"axis":null},"y":{"field":"FERR","type":"quantitative","scale":{"domain":[-32,1256],"nice":false,"zero":false},"axis":null}}}
 ]},
 {"width":139.75,"height":98.5,"layer":[
  {"data":{"name":"hist"},"transform":[{"filter":"datum.v=='FERR'"}],"mark":{"type":"bar","fill":"#00FFFF","stroke":"black","strokeWidth":1,"clip":true,"orient":"vertical"},
   "encoding":{"x":{"field":"lo","type":"quantitative","scale":{"domain":[-32,1256],"nice":false,"zero":false},"axis":null},"x2":{"field":"hi"},"y":{"field":"n","type":"quantitative","scale":{"domain":[0,72],"nice":false},"axis":null},"y2":{"datum":0}}},
  {"data":{"name":"dens"},"transform":[{"filter":"datum.v=='FERR'"}],"mark":{"type":"line","color":"black","strokeWidth":1,"clip":true,"interpolate":"monotone"},
   "encoding":{"x":{"field":"x","type":"quantitative","scale":{"domain":[-32,1256],"nice":false,"zero":false},"axis":null},"y":{"field":"y","type":"quantitative","scale":{"domain":[0,72],"nice":false},"axis":null}}},
  {"data":{"values":[{"t":"FERR"}]},"mark":{"type":"text","fontSize":26,"baseline":"alphabetic","align":"center","color":"black"},
   "encoding":{"text":{"field":"t"},"y":{"datum":51.9,"type":"quantitative","scale":{"domain":[0,72],"nice":false},"axis":null}}}
 ]},
 {"width":139.75,"height":98.5,"layer":[
  {"data":{"name":"subj"},"mark":{"type":"point","opacity":0},
   "encoding":{"y":{"field":"FERR","type":"quantitative","scale":{"domain":[-32,1256],"nice":false,"zero":false},"axis":{"orient":"right","values":[0,200,400,600,800,1000,1200],"format":"d","labelExpr":"(datum.value==0||datum.value==400||datum.value==1000)?datum.label:''","title":null,"tickSize":8,"labelPadding":9,"labelAngle":-90,"labelAlign":"center","labelBaseline":"top"}}}},
  {"data":{"values":[{"t":"-0.07"}]},"mark":{"type":"text","fontSize":34,"baseline":"middle","align":"center","color":"black"},"encoding":{"text":{"field":"t"}}}
 ]},
 {"width":139.75,"height":98.5,"layer":[
  {"data":{"name":"subj"},"mark":{"type":"circle","size":30,"stroke":"black","strokeWidth":0.9,"opacity":1},
   "encoding":{"x":{"field":"AGE","type":"quantitative","scale":{"domain":[27.4,98.7],"nice":false,"zero":false},"axis":{"orient":"bottom","values":[30,40,50,60,70,80,90],"format":"d","labelExpr":"(datum.value==40||datum.value==60||datum.value==80)?'':datum.label","title":null,"tickSize":8,"labelPadding":8.5,"labelAngle":0,"labelAlign":"center","labelBaseline":"top"}},
    "y":{"field":"LYM","type":"quantitative","scale":{"domain":[150,2850],"nice":false,"zero":false},"axis":{"orient":"left","values":[500,1000,1500,2000,2500],"format":"d","labelExpr":"(datum.value==500||datum.value==2000)?datum.label:''","title":null,"tickSize":8,"labelPadding":11,"labelAngle":-90,"labelAlign":"center","labelBaseline":"alphabetic"}},
    "fill":{"field":"g","type":"nominal","scale":{"domain":["r","g"],"range":["#FF0000","#00FF00"]},"legend":null}}},
  {"data":{"name":"ell"},"transform":[{"filter":"datum.p=='AGE-LYM'"}],"mark":{"type":"line","color":"#222222","strokeWidth":1,"interpolate":"cardinal-closed"},
   "encoding":{"x":{"field":"x","type":"quantitative","scale":{"domain":[27.4,98.7],"nice":false,"zero":false},"axis":{"orient":"bottom","values":[30,40,50,60,70,80,90],"format":"d","labelExpr":"(datum.value==40||datum.value==60||datum.value==80)?'':datum.label","title":null,"tickSize":8,"labelPadding":8.5,"labelAngle":0,"labelAlign":"center","labelBaseline":"top"}},"y":{"field":"y","type":"quantitative","scale":{"domain":[150,2850],"nice":false,"zero":false},"axis":{"orient":"left","values":[500,1000,1500,2000,2500],"format":"d","labelExpr":"(datum.value==500||datum.value==2000)?datum.label:''","title":null,"tickSize":8,"labelPadding":11,"labelAngle":-90,"labelAlign":"center","labelBaseline":"alphabetic"}},"order":{"field":"i"}}},
  {"data":{"name":"sm"},"transform":[{"filter":"datum.p=='AGE-LYM'"}],"mark":{"type":"line","color":"#FF0000","strokeWidth":1,"interpolate":"monotone"},
   "encoding":{"x":{"field":"x","type":"quantitative","scale":{"domain":[27.4,98.7],"nice":false,"zero":false},"axis":{"orient":"bottom","values":[30,40,50,60,70,80,90],"format":"d","labelExpr":"(datum.value==40||datum.value==60||datum.value==80)?'':datum.label","title":null,"tickSize":8,"labelPadding":8.5,"labelAngle":0,"labelAlign":"center","labelBaseline":"top"}},"y":{"field":"y","type":"quantitative","scale":{"domain":[150,2850],"nice":false,"zero":false},"axis":{"orient":"left","values":[500,1000,1500,2000,2500],"format":"d","labelExpr":"(datum.value==500||datum.value==2000)?datum.label:''","title":null,"tickSize":8,"labelPadding":11,"labelAngle":-90,"labelAlign":"center","labelBaseline":"alphabetic"}}}},
  {"data":{"name":"means"},"mark":{"type":"circle","size":60,"color":"#FF0000","opacity":1},
   "encoding":{"x":{"field":"AGE","type":"quantitative","scale":{"domain":[27.4,98.7],"nice":false,"zero":false},"axis":{"orient":"bottom","values":[30,40,50,60,70,80,90],"format":"d","labelExpr":"(datum.value==40||datum.value==60||datum.value==80)?'':datum.label","title":null,"tickSize":8,"labelPadding":8.5,"labelAngle":0,"labelAlign":"center","labelBaseline":"top"}},"y":{"field":"LYM","type":"quantitative","scale":{"domain":[150,2850],"nice":false,"zero":false},"axis":{"orient":"left","values":[500,1000,1500,2000,2500],"format":"d","labelExpr":"(datum.value==500||datum.value==2000)?datum.label:''","title":null,"tickSize":8,"labelPadding":11,"labelAngle":-90,"labelAlign":"center","labelBaseline":"alphabetic"}}}}
 ]},
 {"width":139.75,"height":98.5,"layer":[
  {"data":{"name":"subj"},"mark":{"type":"circle","size":30,"stroke":"black","strokeWidth":0.9,"opacity":1},
   "encoding":{"x":{"field":"CRP","type":"quantitative","scale":{"domain":[-0.67,28.2],"nice":false,"zero":false},"axis":null},
    "y":{"field":"LYM","type":"quantitative","scale":{"domain":[150,2850],"nice":false,"zero":false},"axis":null},
    "fill":{"field":"g","type":"nominal","scale":{"domain":["r","g"],"range":["#FF0000","#00FF00"]},"legend":null}}},
  {"data":{"name":"ell"},"transform":[{"filter":"datum.p=='CRP-LYM'"}],"mark":{"type":"line","color":"#222222","strokeWidth":1,"interpolate":"cardinal-closed"},
   "encoding":{"x":{"field":"x","type":"quantitative","scale":{"domain":[-0.67,28.2],"nice":false,"zero":false},"axis":null},"y":{"field":"y","type":"quantitative","scale":{"domain":[150,2850],"nice":false,"zero":false},"axis":null},"order":{"field":"i"}}},
  {"data":{"name":"sm"},"transform":[{"filter":"datum.p=='CRP-LYM'"}],"mark":{"type":"line","color":"#FF0000","strokeWidth":1,"interpolate":"monotone"},
   "encoding":{"x":{"field":"x","type":"quantitative","scale":{"domain":[-0.67,28.2],"nice":false,"zero":false},"axis":null},"y":{"field":"y","type":"quantitative","scale":{"domain":[150,2850],"nice":false,"zero":false},"axis":null}}},
  {"data":{"name":"means"},"mark":{"type":"circle","size":60,"color":"#FF0000","opacity":1},
   "encoding":{"x":{"field":"CRP","type":"quantitative","scale":{"domain":[-0.67,28.2],"nice":false,"zero":false},"axis":null},"y":{"field":"LYM","type":"quantitative","scale":{"domain":[150,2850],"nice":false,"zero":false},"axis":null}}}
 ]},
 {"width":139.75,"height":98.5,"layer":[
  {"data":{"name":"subj"},"mark":{"type":"circle","size":30,"stroke":"black","strokeWidth":0.9,"opacity":1},
   "encoding":{"x":{"field":"FERR","type":"quantitative","scale":{"domain":[-32,1256],"nice":false,"zero":false},"axis":{"orient":"bottom","values":[0,200,400,600,800,1000,1200],"format":"d","labelExpr":"(datum.value==200||datum.value==600||datum.value==1000)?'':datum.label","title":null,"tickSize":8,"labelPadding":8.5,"labelAngle":0,"labelAlign":"center","labelBaseline":"top"}},
    "y":{"field":"LYM","type":"quantitative","scale":{"domain":[150,2850],"nice":false,"zero":false},"axis":null},
    "fill":{"field":"g","type":"nominal","scale":{"domain":["r","g"],"range":["#FF0000","#00FF00"]},"legend":null}}},
  {"data":{"name":"ell"},"transform":[{"filter":"datum.p=='FERR-LYM'"}],"mark":{"type":"line","color":"#222222","strokeWidth":1,"interpolate":"cardinal-closed"},
   "encoding":{"x":{"field":"x","type":"quantitative","scale":{"domain":[-32,1256],"nice":false,"zero":false},"axis":{"orient":"bottom","values":[0,200,400,600,800,1000,1200],"format":"d","labelExpr":"(datum.value==200||datum.value==600||datum.value==1000)?'':datum.label","title":null,"tickSize":8,"labelPadding":8.5,"labelAngle":0,"labelAlign":"center","labelBaseline":"top"}},"y":{"field":"y","type":"quantitative","scale":{"domain":[150,2850],"nice":false,"zero":false},"axis":null},"order":{"field":"i"}}},
  {"data":{"name":"sm"},"transform":[{"filter":"datum.p=='FERR-LYM'"}],"mark":{"type":"line","color":"#FF0000","strokeWidth":1,"interpolate":"monotone"},
   "encoding":{"x":{"field":"x","type":"quantitative","scale":{"domain":[-32,1256],"nice":false,"zero":false},"axis":{"orient":"bottom","values":[0,200,400,600,800,1000,1200],"format":"d","labelExpr":"(datum.value==200||datum.value==600||datum.value==1000)?'':datum.label","title":null,"tickSize":8,"labelPadding":8.5,"labelAngle":0,"labelAlign":"center","labelBaseline":"top"}},"y":{"field":"y","type":"quantitative","scale":{"domain":[150,2850],"nice":false,"zero":false},"axis":null}}},
  {"data":{"name":"means"},"mark":{"type":"circle","size":60,"color":"#FF0000","opacity":1},
   "encoding":{"x":{"field":"FERR","type":"quantitative","scale":{"domain":[-32,1256],"nice":false,"zero":false},"axis":{"orient":"bottom","values":[0,200,400,600,800,1000,1200],"format":"d","labelExpr":"(datum.value==200||datum.value==600||datum.value==1000)?'':datum.label","title":null,"tickSize":8,"labelPadding":8.5,"labelAngle":0,"labelAlign":"center","labelBaseline":"top"}},"y":{"field":"LYM","type":"quantitative","scale":{"domain":[150,2850],"nice":false,"zero":false},"axis":null}}}
 ]},
 {"width":139.75,"height":98.5,"layer":[
  {"data":{"name":"hist"},"transform":[{"filter":"datum.v=='LYM'"}],"mark":{"type":"bar","fill":"#00FFFF","stroke":"black","strokeWidth":1,"clip":true,"orient":"vertical"},
   "encoding":{"x":{"field":"lo","type":"quantitative","scale":{"domain":[150,2850],"nice":false,"zero":false},"axis":null},"x2":{"field":"hi"},"y":{"field":"n","type":"quantitative","scale":{"domain":[0,72],"nice":false},"axis":null},"y2":{"datum":0}}},
  {"data":{"name":"dens"},"transform":[{"filter":"datum.v=='LYM'"}],"mark":{"type":"line","color":"black","strokeWidth":1,"clip":true,"interpolate":"monotone"},
   "encoding":{"x":{"field":"x","type":"quantitative","scale":{"domain":[150,2850],"nice":false,"zero":false},"axis":null},"y":{"field":"y","type":"quantitative","scale":{"domain":[0,72],"nice":false},"axis":null}}},
  {"data":{"values":[{"t":"LYM"}]},"mark":{"type":"text","fontSize":26,"baseline":"alphabetic","align":"center","color":"black"},
   "encoding":{"text":{"field":"t"},"y":{"datum":51.9,"type":"quantitative","scale":{"domain":[0,72],"nice":false},"axis":null}}}
 ]}
]
}
